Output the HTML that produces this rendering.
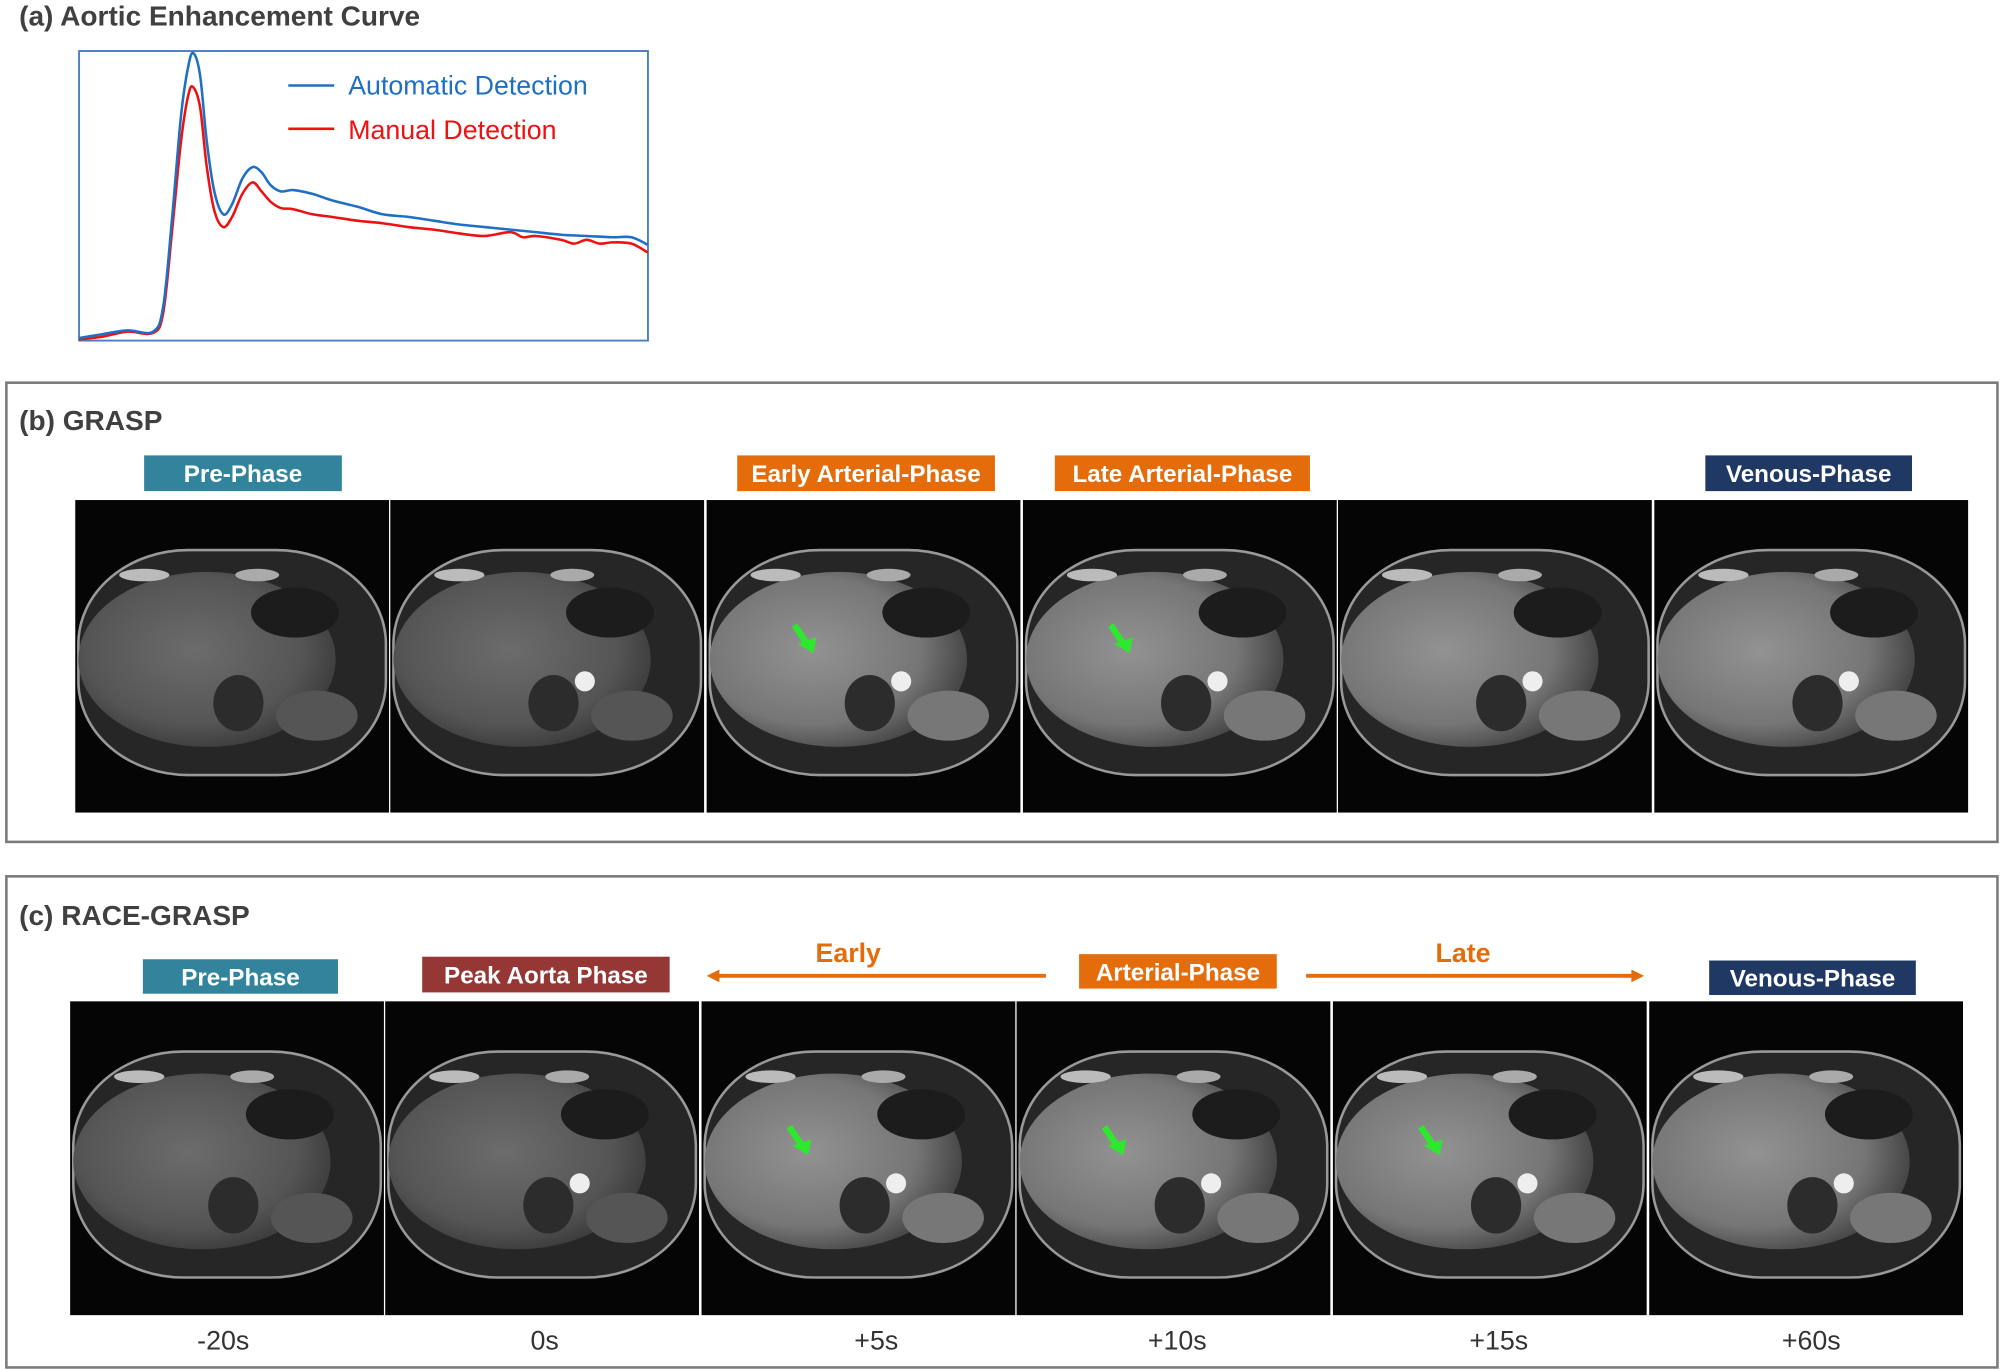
<!DOCTYPE html>
<html><head><meta charset="utf-8"><style>
html,body{margin:0;padding:0;background:#fff;}
svg{display:block;}
text{font-family:"Liberation Sans",sans-serif;}
</style></head><body>
<svg id="fig" width="2000" height="1370" viewBox="0 0 1568 1074" preserveAspectRatio="none" xmlns="http://www.w3.org/2000/svg">
<defs>
<radialGradient id="body" cx="0.45" cy="0.45" r="0.6">
<stop offset="0" stop-color="#6c6c6c"/><stop offset="0.7" stop-color="#555"/><stop offset="1" stop-color="#383838"/>
</radialGradient>
<radialGradient id="bodyB" cx="0.4" cy="0.45" r="0.6">
<stop offset="0" stop-color="#929292"/><stop offset="0.7" stop-color="#767676"/><stop offset="1" stop-color="#474747"/>
</radialGradient>
</defs>
<text x="15" y="20" font-size="22" font-weight="bold" fill="#404040">(a) Aortic Enhancement Curve</text>
<g id="chart">
<rect x="62" y="40" width="446" height="227" fill="#fff" stroke="#4a7fc0" stroke-width="1.5"/>
<line x1="226" y1="67" x2="262" y2="67" stroke="#1f6fc5" stroke-width="2"/>
<text x="273" y="74" font-size="21" fill="#1f6fc5">Automatic Detection</text>
<line x1="226" y1="101" x2="262" y2="101" stroke="#ee1111" stroke-width="2"/>
<text x="273" y="109" font-size="21" fill="#ee1111">Manual Detection</text>
</g>
<rect x="5" y="300" width="1561" height="360" fill="none" stroke="#7a7a7a" stroke-width="2"/>
<text x="15" y="337" font-size="22" font-weight="bold" fill="#404040">(b) GRASP</text>
<rect x="5" y="687" width="1561" height="385" fill="none" stroke="#7a7a7a" stroke-width="2"/>
<text x="15" y="725" font-size="22" font-weight="bold" fill="#404040">(c) RACE-GRASP</text>
<g id="labels"></g>
<g id="imgs"></g>
<g>
<line x1="562" y1="765" x2="820" y2="765" stroke="#e46c0a" stroke-width="3"/>
<polygon points="554,765 564,760 564,770" fill="#e46c0a"/>
<text x="665" y="754" font-size="21" font-weight="bold" fill="#e46c0a" text-anchor="middle">Early</text>
</g>
<g>
<line x1="1024" y1="765" x2="1280" y2="765" stroke="#e46c0a" stroke-width="3"/>
<polygon points="1289,765 1279,760 1279,770" fill="#e46c0a"/>
<text x="1147" y="754" font-size="21" font-weight="bold" fill="#e46c0a" text-anchor="middle">Late</text>
</g>
<g id="times"></g>
</svg>
<script>
// Chart data (time in samples, signal intensity in a.u.)
const autoTime=[0,18,38,58,66,73,80,86,90,95,100,106,113,120,128,136,143,150,158,168,183,198,218,238,258,278,298,318,338,358,378,398,418,433,446];
const autoValue=[2,5,8,7,27,97,177,217,225,207,157,117,99,107,127,136,132,122,117,118,115,110,105,99,97,94,91,89,87,85,83,82,81,81,75];
const manualTime=[0,18,38,58,66,73,80,86,90,95,100,106,113,120,128,136,143,150,158,168,183,198,218,238,258,278,298,318,338,348,358,378,388,398,408,418,433,446];
const manualValue=[1,3,7,6,22,87,157,194,198,182,137,102,89,97,115,124,117,109,104,103,99,97,94,92,89,87,84,82,85,81,82,79,76,79,76,77,76,69];
const tMax=446, vMax=227;
const xs=t=>62+t/tMax*446, ys=v=>267-v/vMax*227;
const NS='http://www.w3.org/2000/svg';
function smooth(T,V){
  const p=T.map((t,i)=>[xs(t),ys(V[i])]);
  let d='M'+p[0][0]+','+p[0][1];
  for(let i=0;i<p.length-1;i++){
    const a=p[i-1]||p[i],b=p[i],c=p[i+1],e=p[i+2]||c;
    d+=` C${b[0]+(c[0]-a[0])/6},${b[1]+(c[1]-a[1])/6} ${c[0]-(e[0]-b[0])/6},${c[1]-(e[1]-b[1])/6} ${c[0]},${c[1]}`;
  }
  return d;
}
const chart=document.getElementById('chart');
[[manualTime,manualValue,'#ee1111','manual-curve'],[autoTime,autoValue,'#1f6fc5','auto-curve']].forEach(s=>{
  const el=document.createElementNS(NS,'path');
  el.setAttribute('d',smooth(s[0],s[1]));
  el.setAttribute('fill','none');el.setAttribute('stroke',s[2]);el.setAttribute('stroke-width','2');
  
  
  chart.appendChild(el);
});
const labels=document.getElementById('labels');
[[113,357,155,28,'#31849b','Pre-Phase'],[578,357,202,28,'#e46c0a','Early Arterial-Phase'],[827,357,200,28,'#e46c0a','Late Arterial-Phase'],[1337,357,162,28,'#1f3864','Venous-Phase'],
 [112,752,153,27,'#31849b','Pre-Phase'],[331,750,194,28,'#953735','Peak Aorta Phase'],[846,748,155,27,'#e46c0a','Arterial-Phase'],[1340,753,162,27,'#1f3864','Venous-Phase']].forEach(l=>{
  const g=document.createElementNS(NS,'g');
  
  
  g.innerHTML=`<rect x="${l[0]}" y="${l[1]}" width="${l[2]}" height="${l[3]}" fill="${l[4]}"/><text x="${l[0]+l[2]/2}" y="${l[1]+l[3]/2+7}" font-size="19" font-weight="bold" fill="#fff" text-anchor="middle">${l[5]}</text>`;
  labels.appendChild(g);
});
const imgs=document.getElementById('imgs');
function mri(x,y,w,h,bright,aorta,arrow){
  const g=document.createElementNS(NS,'g');
  
  
  const cx=x+w/2,cy=y+h*0.52;
  let s=`<rect x="${x}" y="${y}" width="${w}" height="${h}" fill="#050505"/>`;
  s+=`<rect x="${x+w*0.01}" y="${cy-h*0.36}" width="${w*0.98}" height="${h*0.72}" rx="${w*0.35}" ry="${h*0.3}" fill="#262626" stroke="#999" stroke-width="2"/>`;
  s+=`<ellipse cx="${cx-w*0.08}" cy="${cy-h*0.01}" rx="${w*0.41}" ry="${h*0.28}" fill="url(#${bright?'bodyB':'body'})"/>`;
  s+=`<ellipse cx="${cx+w*0.2}" cy="${cy-h*0.16}" rx="${w*0.14}" ry="${h*0.08}" fill="#1c1c1c"/>`;
  s+=`<ellipse cx="${cx+w*0.02}" cy="${cy+h*0.13}" rx="${w*0.08}" ry="${h*0.09}" fill="#2c2c2c"/>`;
  s+=`<ellipse cx="${cx+w*0.27}" cy="${cy+h*0.17}" rx="${w*0.13}" ry="${h*0.08}" fill="${bright?'#777':'#555'}"/>`;
  s+=`<ellipse cx="${cx-w*0.28}" cy="${cy-h*0.28}" rx="${w*0.08}" ry="${h*0.02}" fill="#bbb"/>`;
  s+=`<ellipse cx="${cx+w*0.08}" cy="${cy-h*0.28}" rx="${w*0.07}" ry="${h*0.02}" fill="#aaa"/>`;
  if(aorta) s+=`<circle cx="${cx+w*0.12}" cy="${cy+h*0.06}" r="${w*0.032}" fill="#eee"/>`;
  if(arrow) s+=`<line x1="${cx-w*0.22}" y1="${cy-h*0.12}" x2="${cx-w*0.18}" y2="${cy-h*0.06}" stroke="#2ee82e" stroke-width="5"/><polygon points="${cx-w*0.16},${cy-h*0.03} ${cx-w*0.21},${cy-h*0.06} ${cx-w*0.15},${cy-h*0.08}" fill="#2ee82e"/>`;
  g.innerHTML=s;imgs.appendChild(g);
}
[59,306,554,802,1049,1297].forEach((x,i)=>mri(x,392,246,245,i>=2,i>=1,i==2||i==3));
[55,302,550,797,1045,1293].forEach((x,i)=>mri(x,785,246,246,i>=2,i>=1,i>=2&&i<=4));
const times=document.getElementById('times');
[[175,'-20s'],[427,'0s'],[687,'+5s'],[923,'+10s'],[1175,'+15s'],[1420,'+60s']].forEach(t=>{
  const el=document.createElementNS(NS,'text');
  el.setAttribute('x',t[0]);el.setAttribute('y',1058);el.setAttribute('font-size','21');el.setAttribute('fill','#333');el.setAttribute('text-anchor','middle');
  el.textContent=t[1];
  
  
  times.appendChild(el);
});
</script>
</body></html>
